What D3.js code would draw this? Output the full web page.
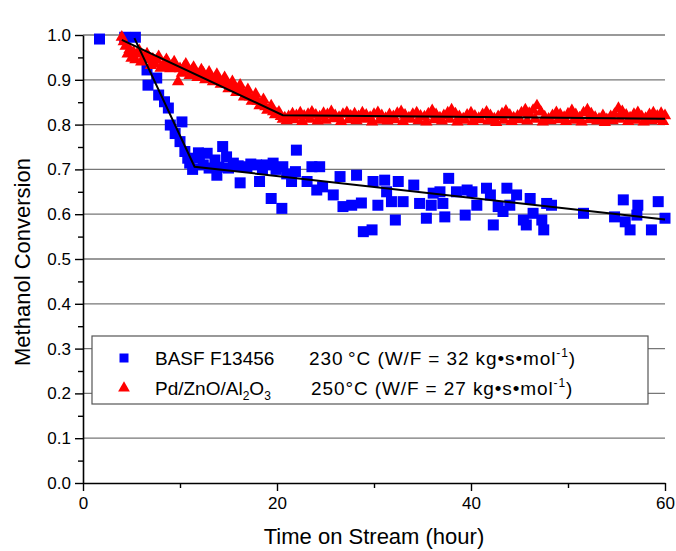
<!DOCTYPE html>
<html>
<head>
<meta charset="utf-8">
<script src="https://cdn.jsdelivr.net/npm/d3@7"></script>
<style>
  html, body { margin: 0; padding: 0; background: #fff; }
  svg { display: block; }
  text { font-family: "Liberation Sans", Arial, sans-serif; fill: #000; }
</style>
</head>
<body>
<svg id="chart" width="676" height="551"></svg>
<script>
// BASF F13456 at 230 °C: time on stream (h) and methanol conversion
const basfTime = [1.7, 4.3, 5.4, 6.6, 6.7, 7.6, 7.8, 8.4, 8.8, 9.0, 9.5, 10.0, 10.2, 10.5, 10.8, 11.0, 11.3,
  11.9, 12.0, 12.4, 12.8, 13.0, 13.6, 13.8, 14.0, 14.4, 14.8, 15.0, 15.5, 16.0, 16.2, 16.9, 17.3, 17.9, 18.2,
  18.5, 18.9, 19.4, 19.6, 19.9, 20.5, 20.6, 21.0, 21.5, 21.9, 22.0, 23.1, 23.6, 24.1, 24.4, 24.7, 25.8, 26.5,
  26.8, 27.7, 28.2, 28.7, 28.9, 29.8, 29.9, 30.4, 31.1, 31.3, 31.8, 32.2, 32.5, 33.0, 34.1, 34.7, 35.4, 35.9,
  36.1, 36.8, 37.1, 37.3, 37.7, 38.5, 39.4, 39.6, 40.1, 40.6, 41.6, 42.0, 42.3, 42.8, 43.3, 43.7, 44.0, 44.7,
  45.4, 45.7, 46.1, 46.4, 47.3, 47.5, 47.8, 48.3, 51.6, 54.8, 55.7, 55.9, 56.4, 57.1, 57.2, 58.6, 59.3, 60.0];
const basfConv = [0.991, 0.995, 0.995, 0.922, 0.888, 0.904, 0.866, 0.851, 0.837, 0.799, 0.780, 0.762, 0.806, 0.740, 0.725, 0.714, 0.700,
  0.737, 0.725, 0.710, 0.736, 0.703, 0.721, 0.687, 0.705, 0.751, 0.728, 0.703, 0.714, 0.708, 0.670, 0.706, 0.712, 0.710, 0.673,
  0.700, 0.710, 0.635, 0.714, 0.700, 0.613, 0.706, 0.690, 0.673, 0.695, 0.743, 0.673, 0.706, 0.654, 0.706, 0.661, 0.643, 0.684,
  0.617, 0.620, 0.687, 0.625, 0.561, 0.565, 0.673, 0.620, 0.676, 0.650, 0.628, 0.587, 0.673, 0.628, 0.665, 0.624, 0.591, 0.620,
  0.647, 0.650, 0.624, 0.594, 0.680, 0.650, 0.598, 0.654, 0.650, 0.620, 0.658, 0.643, 0.576, 0.617, 0.606, 0.658, 0.620, 0.643,
  0.587, 0.576, 0.635, 0.602, 0.587, 0.565, 0.624, 0.620, 0.602, 0.594, 0.632, 0.583, 0.565, 0.598, 0.620, 0.565, 0.628, 0.591];

// Pd/ZnO/Al2O3 at 250 °C (fast-decline period, plateau, then the interleaved plateau readings)
const pdTime = [
  4.0, 4.2, 4.4, 4.6, 4.8, 5.0, 5.2, 5.4, 5.6, 5.8, 6.0, 6.2, 6.4, 6.6, 6.8, 7.0, 7.2, 7.4, 7.6, 7.8,
  8.0, 8.2, 8.4, 8.6, 8.8, 9.0, 9.2, 9.4, 9.6, 9.8, 10.0, 10.2, 10.4, 10.6, 10.8, 11.0, 11.2, 11.4, 11.6, 11.8,
  12.0, 12.2, 12.4, 12.6, 12.8, 13.0, 13.2, 13.4, 13.6, 13.8, 14.0, 14.2, 14.4, 14.6, 14.8, 15.0, 15.2, 15.4, 15.6, 15.8,
  16.0, 16.2, 16.4, 16.6, 16.8, 17.0, 17.2, 17.4, 17.6, 17.8, 18.0, 18.2, 18.4, 18.6, 18.8, 19.0, 19.2, 19.4, 19.6, 19.8,
  20.0, 20.2, 20.4, 20.6,
  20.8, 21.2, 21.6, 22.0, 22.4, 22.8, 23.2, 23.6, 24.0, 24.4, 24.8, 25.2, 25.6, 26.0, 26.4, 26.8, 27.2, 27.6, 28.0, 28.4,
  28.8, 29.2, 29.6, 30.0, 30.4, 30.8, 31.2, 31.6, 32.0, 32.4, 32.8, 33.2, 33.6, 34.0, 34.4, 34.8, 35.2, 35.6, 36.0, 36.4,
  36.8, 37.2, 37.6, 38.0, 38.4, 38.8, 39.2, 39.6, 40.0, 40.4, 40.8, 41.2, 41.6, 42.0, 42.4, 42.8, 43.2, 43.6, 44.0, 44.4,
  44.8, 45.2, 45.6, 46.0, 46.4, 46.8, 47.2, 47.6, 48.0, 48.4, 48.8, 49.2, 49.6, 50.0, 50.4, 50.8, 51.2, 51.6, 52.0, 52.4,
  52.8, 53.2, 53.6, 54.0, 54.4, 54.8, 55.2, 55.6, 56.0, 56.4, 56.8, 57.2, 57.6, 58.0, 58.4, 58.8, 59.2, 59.6, 60.0,
  21.0, 21.8, 22.6, 23.4, 24.2, 25.0, 25.8, 26.6, 27.4, 28.2, 29.0, 29.8, 30.6, 31.4, 32.2, 33.0, 33.8, 34.6, 35.4, 36.2,
  37.0, 37.8, 38.6, 39.4, 40.2, 41.0, 41.8, 42.6, 43.4, 44.2, 45.0, 45.8, 46.6, 47.4, 48.2, 49.0, 49.8, 50.6, 51.4, 52.2,
  53.0, 53.8, 54.6, 55.4, 56.2, 57.0, 57.8, 58.6, 59.4, 59.8];
const pdConv = [
  0.995, 0.985, 0.975, 0.958, 0.968, 0.948, 0.962, 0.945, 0.958, 0.965, 0.940, 0.945, 0.952, 0.958, 0.950, 0.932, 0.946, 0.935, 0.944, 0.952,
  0.926, 0.930, 0.938, 0.945, 0.936, 0.925, 0.933, 0.940, 0.930, 0.896, 0.925, 0.915, 0.928, 0.935, 0.922, 0.910, 0.920, 0.928, 0.916, 0.905,
  0.912, 0.922, 0.915, 0.900, 0.908, 0.917, 0.905, 0.896, 0.903, 0.912, 0.899, 0.890, 0.896, 0.905, 0.890, 0.880, 0.886, 0.896, 0.882, 0.872,
  0.877, 0.888, 0.873, 0.862, 0.868, 0.878, 0.862, 0.852, 0.857, 0.868, 0.852, 0.842, 0.846, 0.856, 0.840, 0.832, 0.834, 0.842, 0.829, 0.822,
  0.824, 0.828, 0.818, 0.812,
  0.815, 0.818, 0.824, 0.820, 0.826, 0.819, 0.823, 0.828, 0.821, 0.817, 0.825, 0.822, 0.829, 0.820, 0.816, 0.823, 0.827, 0.819, 0.824, 0.818,
  0.826, 0.821, 0.816, 0.823, 0.827, 0.820, 0.814, 0.822, 0.818, 0.825, 0.829, 0.821, 0.815, 0.823, 0.826, 0.819, 0.817, 0.824, 0.831, 0.822,
  0.815, 0.820, 0.826, 0.833, 0.824, 0.818, 0.813, 0.821, 0.826, 0.819, 0.814, 0.822, 0.828, 0.820, 0.813, 0.818, 0.824, 0.830, 0.821, 0.815,
  0.819, 0.826, 0.833, 0.825, 0.832, 0.842, 0.828, 0.817, 0.812, 0.820, 0.827, 0.822, 0.816, 0.824, 0.831, 0.822, 0.815, 0.826, 0.833, 0.824,
  0.816, 0.812, 0.820, 0.811, 0.818, 0.823, 0.836, 0.829, 0.821, 0.815, 0.823, 0.827, 0.818, 0.814, 0.822, 0.826, 0.819, 0.825, 0.820,
  0.809, 0.811, 0.807, 0.812, 0.808, 0.810, 0.813, 0.807, 0.811, 0.809, 0.812, 0.806, 0.810, 0.808, 0.811, 0.807, 0.812, 0.809, 0.806, 0.811,
  0.808, 0.812, 0.806, 0.810, 0.807, 0.811, 0.808, 0.805, 0.810, 0.807, 0.811, 0.808, 0.812, 0.806, 0.809, 0.811, 0.807, 0.810, 0.806, 0.811,
  0.808, 0.805, 0.809, 0.812, 0.807, 0.810, 0.806, 0.809, 0.811, 0.807];

// Piecewise linear deactivation trends
const basfTrendTime = [5.3, 11.5, 60];
const basfTrendConv = [0.993, 0.706, 0.588];
const pdTrendTime = [4.0, 20.6, 60];
const pdTrendConv = [0.989, 0.821, 0.813];

// Axis ticks
const xMajor = [0, 20, 40, 60];
const xMinor = [10, 30, 50];
const yMajor = [0, 0.1, 0.2, 0.3, 0.4, 0.5, 0.6, 0.7, 0.8, 0.9, 1.0];
const yMinor = [0.05, 0.15, 0.25, 0.35, 0.45, 0.55, 0.65, 0.75, 0.85, 0.95];

const svg = d3.select("#chart");
const x = d3.scaleLinear().domain([0, 60]).range([83, 665]);
const y = d3.scaleLinear().domain([0, 1]).range([483, 35]);

// Horizontal grid lines
svg.append("g")
  .selectAll("line")
  .data(yMajor.filter(v => v > 0))
  .join("line")
  .attr("x1", x(0)).attr("x2", x(60))
  .attr("y1", d => y(d)).attr("y2", d => y(d))
  .attr("stroke", "#777").attr("stroke-width", 1.3);

// Data markers: squares first, triangles over them
const zip = (a, b) => a.map((v, i) => [v, b[i]]);
svg.append("g")
  .selectAll("path")
  .data(zip(basfTime, basfConv))
  .join("path")
  .attr("d", d3.symbol(d3.symbolSquare, 121))
  .attr("transform", d => `translate(${x(d[0])},${y(d[1])})`)
  .attr("fill", "#0000ff");

svg.append("g")
  .selectAll("path")
  .data(zip(pdTime, pdConv))
  .join("path")
  .attr("d", d3.symbol(d3.symbolTriangle, 66))
  .attr("transform", d => `translate(${x(d[0])},${y(d[1])})`)
  .attr("fill", "#ff0000");

// Trend lines
const line = d3.line().x(d => x(d[0])).y(d => y(d[1]));
svg.append("path").datum(zip(basfTrendTime, basfTrendConv))
  .attr("d", line).attr("fill", "none").attr("stroke", "#000").attr("stroke-width", 2);
svg.append("path").datum(zip(pdTrendTime, pdTrendConv))
  .attr("d", line).attr("fill", "none").attr("stroke", "#000").attr("stroke-width", 2);

// Axes
function styleAxis(g) {
  g.selectAll(".domain").attr("stroke", "#000").attr("stroke-width", 1.6);
  g.selectAll(".tick line").attr("stroke", "#000").attr("stroke-width", 1.4);
  g.selectAll(".tick text").style("font-family", '"Liberation Sans", Arial, sans-serif');
}
const yAxisG = svg.append("g").attr("transform", `translate(${x(0)},0)`);
yAxisG.call(d3.axisLeft(y).tickValues(yMinor).tickSize(5).tickSizeOuter(0).tickFormat(""));
yAxisG.call(g => g.selectAll(".domain").remove());
styleAxis(yAxisG);
svg.append("g").attr("transform", `translate(${x(0)},0)`)
  .call(d3.axisLeft(y).tickValues(yMajor).tickSize(8).tickSizeOuter(0).tickFormat(d3.format(".1f")).tickPadding(4))
  .call(g => g.selectAll(".tick text").attr("font-size", 17))
  .call(styleAxis);

const xAxisG = svg.append("g").attr("transform", `translate(0,${y(0)})`);
xAxisG.call(d3.axisBottom(x).tickValues(xMinor).tickSize(5).tickSizeOuter(0).tickFormat(""));
xAxisG.call(g => g.selectAll(".domain").remove());
styleAxis(xAxisG);
svg.append("g").attr("transform", `translate(0,${y(0)})`)
  .call(d3.axisBottom(x).tickValues(xMajor).tickSize(8).tickSizeOuter(0).tickFormat(d3.format("d")).tickPadding(6))
  .call(g => g.selectAll(".tick text").attr("font-size", 17))
  .call(styleAxis);

// Axis titles
svg.append("text")
  .attr("x", 374).attr("y", 544)
  .attr("text-anchor", "middle").attr("font-size", 22)
  .text("Time on Stream (hour)");
svg.append("text")
  .attr("transform", "translate(30,262) rotate(-90)")
  .attr("text-anchor", "middle").attr("font-size", 22)
  .text("Methanol Conversion");

// Legend
const legend = svg.append("g");
legend.append("rect")
  .attr("x", 92).attr("y", 336).attr("width", 556).attr("height", 68)
  .attr("fill", "#fff").attr("stroke", "#555").attr("stroke-width", 1.2);

legend.append("path")
  .attr("d", d3.symbol(d3.symbolSquare, 81))
  .attr("transform", "translate(124,358)")
  .attr("fill", "#0000ff");
legend.append("path")
  .attr("d", d3.symbol(d3.symbolTriangle, 60))
  .attr("transform", "translate(124,388)")
  .attr("fill", "#ff0000");

const lf = 19;
legend.append("text").attr("x", 155).attr("y", 365).attr("font-size", lf).text("BASF F13456");
const r1b = legend.append("text").attr("x", 309).attr("y", 365).attr("font-size", lf).attr("letter-spacing", 0.9);
r1b.append("tspan").text("230\u2009°C (W/F = 32 kg\u2022s\u2022mol");
r1b.append("tspan").attr("font-size", 12).attr("dy", -8).text("-1");
r1b.append("tspan").attr("dy", 8).text(")");

const row2 = legend.append("text").attr("x", 155).attr("y", 395).attr("font-size", lf);
row2.append("tspan").text("Pd/ZnO/Al");
row2.append("tspan").attr("font-size", 12).attr("dy", 5).text("2");
row2.append("tspan").attr("dy", -5).text("O");
row2.append("tspan").attr("font-size", 12).attr("dy", 5).text("3");
const r2b = legend.append("text").attr("x", 311).attr("y", 395).attr("font-size", lf).attr("letter-spacing", 0.9);
r2b.append("tspan").text("250°C (W/F = 27 kg\u2022s\u2022mol");
r2b.append("tspan").attr("font-size", 12).attr("dy", -8).text("-1");
r2b.append("tspan").attr("dy", 8).text(")");
</script>
</body>
</html>
